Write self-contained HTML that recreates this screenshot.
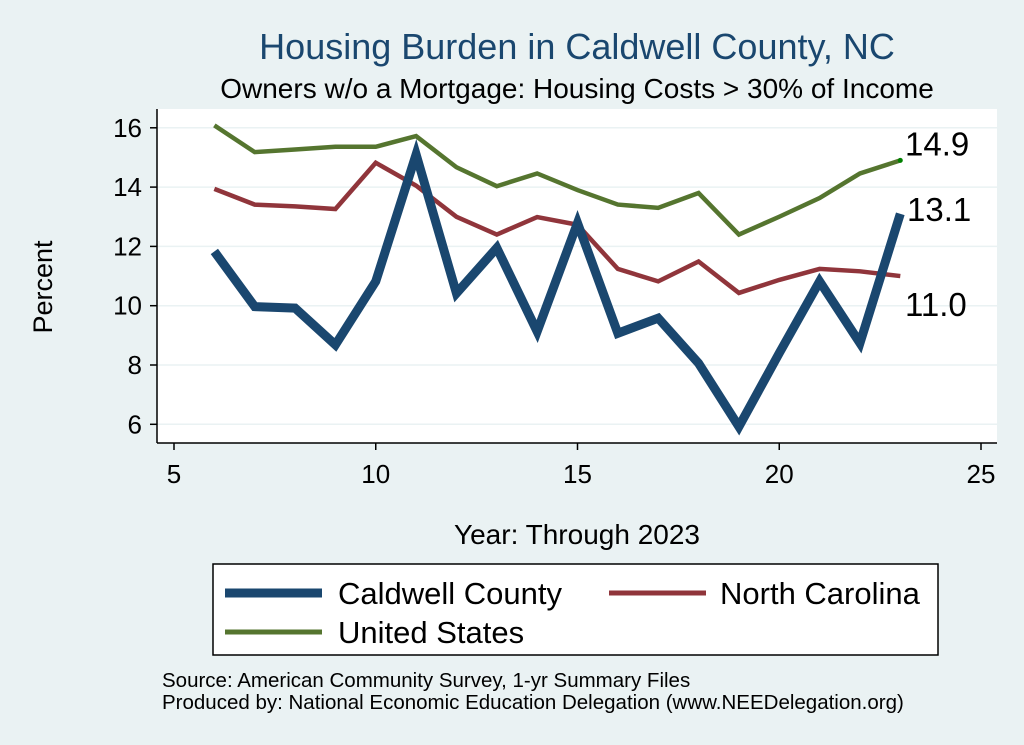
<!DOCTYPE html>
<html><head><meta charset="utf-8"><style>
body{margin:0;background:#eaf2f3;}
svg{display:block;font-family:"Liberation Sans",Arial,sans-serif;}
</style></head><body>
<svg id="c" width="1024" height="745">
<rect x="0" y="0" width="1024" height="745" fill="#eaf2f3"/>
<text x="577" y="59" text-anchor="middle" font-size="36" fill="#1a476f">Housing Burden in Caldwell County, NC</text>
<text x="577" y="98" text-anchor="middle" font-size="28" fill="#000">Owners w/o a Mortgage: Housing Costs &gt; 30% of Income</text>
<rect x="157" y="109" width="840" height="334" fill="#fff"/>
<g id="grid"></g>
<g id="axes"></g>
<g id="series"></g>
<text x="52" y="287" text-anchor="middle" font-size="27" transform="rotate(-90 52 287)">Percent</text>
<text x="577" y="544" text-anchor="middle" font-size="28">Year: Through 2023</text>
<g>
<rect x="213" y="564" width="725" height="91" fill="#fff" stroke="#000" stroke-width="1.5"/>
<line x1="225" y1="593" x2="322" y2="593" stroke="#1a476f" stroke-width="9"/>
<text x="338" y="604" font-size="31">Caldwell County</text>
<line x1="609" y1="593" x2="706" y2="593" stroke="#90353b" stroke-width="5"/>
<text x="720" y="604" font-size="31">North Carolina</text>
<line x1="225" y1="632" x2="322" y2="632" stroke="#55752f" stroke-width="5"/>
<text x="338" y="643" font-size="31">United States</text>
</g>
<text x="162" y="687" font-size="20.5">Source: American Community Survey, 1-yr Summary Files</text>
<text x="162" y="709" font-size="20.5">Produced by: National Economic Education Delegation (www.NEEDelegation.org)</text>
</svg>
<script>
const years=[6,7,8,9,10,11,12,13,14,15,16,17,18,19,20,21,22,23];
const caldwell=[11.83,9.97,9.92,8.68,10.82,15.1,10.42,11.95,9.13,12.79,9.07,9.58,8.06,5.92,8.4,10.82,8.74,13.1];
const nc=[13.94,13.41,13.35,13.26,14.82,14.05,13.0,12.4,12.99,12.73,11.24,10.82,11.49,10.43,10.87,11.24,11.16,11.0];
const us=[16.08,15.18,15.27,15.36,15.36,15.72,14.67,14.03,14.46,13.9,13.41,13.3,13.8,12.4,13.0,13.63,14.46,14.9];
const xTicks=[5,10,15,20,25];
const yTicks=[6,8,10,12,14,16];
const NS="http://www.w3.org/2000/svg";
const xs=v=>174+(v-5)*40.35;
const ys=v=>424.3-(v-6)*29.65;
function mk(t,a,p){const e=document.createElementNS(NS,t);for(const k in a)e.setAttribute(k,a[k]);p.appendChild(e);return e;}
const grid=document.getElementById('grid'),axes=document.getElementById('axes'),ser=document.getElementById('series');
yTicks.forEach(v=>{
 const g=mk('line',{x1:157,x2:997,y1:ys(v),y2:ys(v),stroke:'#eaf2f3','stroke-width':1.5},grid);
 
 
 mk('line',{x1:150,x2:157,y1:ys(v),y2:ys(v),stroke:'#000','stroke-width':1.5},axes);
 const t=mk('text',{x:142,y:ys(v)+9,'text-anchor':'end','font-size':26},axes);t.textContent=v;
 
 
});
xTicks.forEach(v=>{
 mk('line',{x1:xs(v),x2:xs(v),y1:443,y2:450,stroke:'#000','stroke-width':1.5},axes);
 const t=mk('text',{x:xs(v),y:483,'text-anchor':'middle','font-size':26},axes);t.textContent=v;
 
 
});
mk('line',{x1:157,x2:157,y1:109,y2:443,stroke:'#000','stroke-width':1.5},axes);
mk('line',{x1:157,x2:997,y1:443,y2:443,stroke:'#000','stroke-width':1.5},axes);
function line(data,color,w,name){
 const p=mk('polyline',{points:data.map((v,i)=>xs(years[i])+','+ys(v)).join(' '),fill:'none',stroke:color,'stroke-width':w,'stroke-linejoin':'miter'},ser);
 
 
}
line(us,'#55752f',4.5,'us-line');
line(nc,'#90353b',4.5,'nc-line');
line(caldwell,'#1a476f',9,'caldwell-line');
const last=years.length-1;
const dot=mk('circle',{cx:xs(years[last]),cy:ys(us[last]),r:2.5,fill:'#008000'},ser);


[[us,'us',-5],[caldwell,'caldwell',7],[nc,'nc',40]].forEach(([d,n,off])=>{
 const t=mk('text',{x:n==='caldwell'?907:905,y:ys(d[last])+off,'font-size':33},ser);
 t.textContent=d[last].toFixed(1);
 
 
});
</script>
</body></html>
